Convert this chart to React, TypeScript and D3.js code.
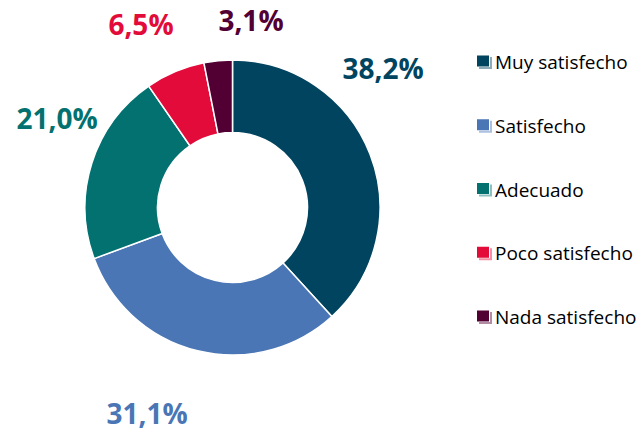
import React from "react";
import * as d3 from "d3";

const categories = ["Muy satisfecho", "Satisfecho", "Adecuado", "Poco satisfecho", "Nada satisfecho"];
const values = [38.2, 31.1, 21.0, 6.5, 3.1];
const labels = ["38,2%", "31,1%", "21,0%", "6,5%", "3,1%"];
const colors = ["#00445F", "#4A76B5", "#037170", "#E20B3A", "#520033"];
// label anchor positions (data-label placement, as in the reference)
const labelPos: [number, number][] = [
  [383, 68],
  [147, 413],
  [57, 118],
  [141, 24],
  [251, 20],
];

export default function App() {
  const W = 644, H = 433;
  const cx = 232.5, cy = 207.5, R = 147.5, r = 75;
  const pie = d3.pie<number>().sort(null).value((d) => d);
  const arcs = pie(values);
  const arc = d3.arc<d3.PieArcDatum<number>>().innerRadius(r).outerRadius(R);
  const legendY = d3.scalePoint<string>().domain(categories).range([62, 317]);
  return (
    <svg
      width={W}
      height={H}
      style={{ position: "absolute", left: 0, top: 0, background: "#fff" }}
    >
      <g transform={`translate(${cx},${cy})`}>
        {arcs.map((a, i) => (
          <path key={i} d={arc(a) || ""} fill={colors[i]} stroke="#fff" strokeWidth={1.5} />
        ))}
      </g>
      {labels.map((t, i) => (
        <text
          key={i}
          x={labelPos[i][0]}
          y={labelPos[i][1]}
          textAnchor="middle"
          dominantBaseline="central"
          fill={colors[i]}
          fontFamily="'Open Sans', sans-serif"
          fontWeight="bold"
          fontSize={28}
        >
          {t}
        </text>
      ))}
      {categories.map((c, i) => {
        const y = legendY(c)!;
        return (
          <g key={c}>
            <rect x={479} y={y - 5} width={13} height={12} fill={colors[i]} opacity={0.45} />
            <rect x={477} y={y - 7} width={13} height={12} fill="#fff" />
            <rect x={477} y={y - 6.5} width={12} height={11} fill={colors[i]} />
            <text
              x={495}
              y={y}
              dominantBaseline="central"
              fill="#000"
              fontFamily="'Open Sans', sans-serif"
              fontSize={19}
            >
              {c}
            </text>
          </g>
        );
      })}
    </svg>
  );
}
